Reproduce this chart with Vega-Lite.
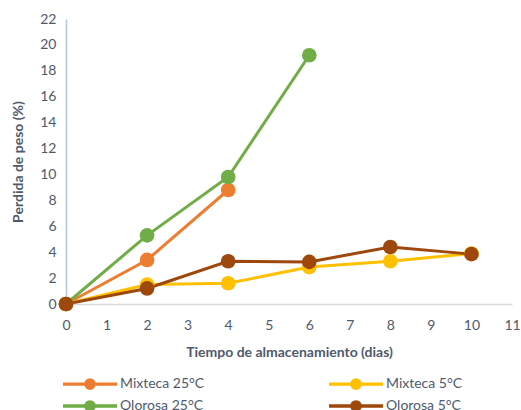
{
  "$schema": "https://vega.github.io/schema/vega-lite/v6.json",
  "width": 446,
  "height": 285,
  "autosize": {"type": "none"},
  "padding": {"left": 66, "top": 19, "right": 9, "bottom": 106},
  "background": "white",
  "config": {
    "font": "Lato",
    "view": {"stroke": null},
    "axis": {"labelColor": "#4F5A6B", "titleColor": "#4F5A6B", "labelFontSize": 14, "titleFontSize": 14, "titleFontWeight": "bold", "grid": false, "ticks": false, "labelFont": "Lato", "titleFont": "Lato", "labelFlush": false}
  },
  "data": {"values": [
    {"serie": "Mixteca 25°C", "dia": 0, "peso": 0},
    {"serie": "Mixteca 25°C", "dia": 2, "peso": 3.4},
    {"serie": "Mixteca 25°C", "dia": 4, "peso": 8.8},
    {"serie": "Mixteca 5°C", "dia": 0, "peso": 0},
    {"serie": "Mixteca 5°C", "dia": 2, "peso": 1.5},
    {"serie": "Mixteca 5°C", "dia": 4, "peso": 1.6},
    {"serie": "Mixteca 5°C", "dia": 6, "peso": 2.85},
    {"serie": "Mixteca 5°C", "dia": 8, "peso": 3.3},
    {"serie": "Mixteca 5°C", "dia": 10, "peso": 3.9},
    {"serie": "Olorosa 25°C", "dia": 0, "peso": 0},
    {"serie": "Olorosa 25°C", "dia": 2, "peso": 5.3},
    {"serie": "Olorosa 25°C", "dia": 4, "peso": 9.8},
    {"serie": "Olorosa 25°C", "dia": 6, "peso": 19.2},
    {"serie": "Olorosa 5°C", "dia": 0, "peso": 0},
    {"serie": "Olorosa 5°C", "dia": 2, "peso": 1.2},
    {"serie": "Olorosa 5°C", "dia": 4, "peso": 3.3},
    {"serie": "Olorosa 5°C", "dia": 6, "peso": 3.25},
    {"serie": "Olorosa 5°C", "dia": 8, "peso": 4.4},
    {"serie": "Olorosa 5°C", "dia": 10, "peso": 3.85}
  ]},
  "encoding": {
    "x": {"field": "dia", "type": "quantitative", "title": "Tiempo de almacenamiento (dias)",
      "scale": {"domain": [0, 11], "nice": false},
      "axis": {"values": [0,1,2,3,4,5,6,7,8,9,10,11], "domainColor": "#D9D9D9", "domainWidth": 1.5, "labelPadding": 14, "titlePadding": 13}},
    "y": {"field": "peso", "type": "quantitative", "title": "Perdida de peso (%)",
      "scale": {"domain": [0, 22], "nice": false},
      "axis": {"values": [0,2,4,6,8,10,12,14,16,18,20,22], "domainColor": "#B4C7E7", "domainWidth": 1.5, "labelPadding": 10, "titlePadding": 14}},
    "color": {"field": "serie", "type": "nominal",
      "scale": {"domain": ["Mixteca 25°C", "Mixteca 5°C", "Olorosa 25°C", "Olorosa 5°C"], "range": ["#ED7D31", "#FFC000", "#70AD47", "#9E480E"]},
      "legend": {"title": null, "orient": "none", "legendX": 13, "legendY": 354, "direction": "horizontal", "columns": 2, "columnPadding": 117, "rowPadding": 0, "padding": 0,
        "symbolType": "M-3,0H3M0.467,0A0.467,0.467 0 1,1 -0.467,0A0.467,0.467 0 1,1 0.467,0Z",
        "symbolSize": 324, "symbolStrokeWidth": 3.3, "symbolOpacity": 1, "labelFontSize": 14, "labelColor": "#4F5A6B", "labelOffset": 19, "labelFont": "Lato",
        "encode": {"symbols": {"update": {"fill": {"scale": "color", "field": "value"}, "stroke": {"scale": "color", "field": "value"}, "strokeWidth": {"value": 3.3}}}}}
    },
    "order": {"field": "dia", "type": "quantitative"}
  },
  "layer": [
    {"mark": {"type": "line", "strokeWidth": 3}},
    {"mark": {"type": "point", "filled": true, "size": 215, "opacity": 1}}
  ]
}
